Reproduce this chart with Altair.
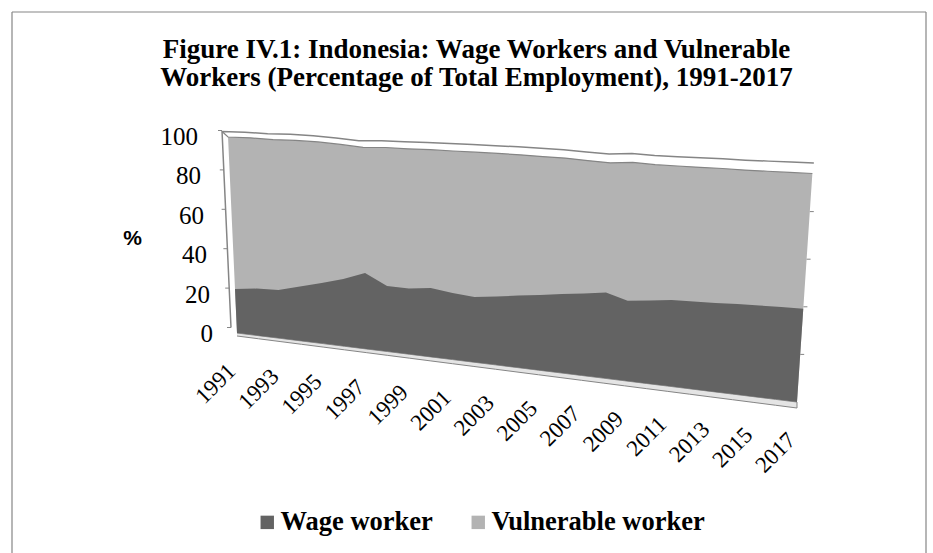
import altair as alt
import pandas as pd

# ---------------- data ----------------
years = list(range(1991, 2018))
wage = [22.3, 23.7, 24.1, 27.0, 29.8, 32.8, 36.8, 31.5, 31.4, 32.6, 31.3, 30.4, 31.6, 33.1,
        34.3, 35.7, 36.9, 38.3, 35.5, 36.5, 37.7, 37.9, 38.1, 38.6, 38.8, 39.1, 39.2]
vulnerable = [77.2, 75.9, 75.2, 72.4, 69.4, 65.7, 60.8, 66.6, 66.6, 65.5, 66.7, 67.6, 66.3, 64.7,
              63.2, 61.6, 59.8, 57.9, 61.4, 59.9, 58.6, 58.3, 58.1, 57.4, 57.2, 56.9, 56.8]
series_names = ["Wage worker", "Vulnerable worker"]
y_ticks = [0, 20, 40, 60, 80, 100]
year_labels = [str(y) for y in years[::2]]
title_lines = ["Figure IV.1: Indonesia: Wage Workers and Vulnerable",
               "Workers (Percentage of Total Employment), 1991-2017"]

# ---------------- styles / 3-D frame geometry ----------------
W, H_PAGE = 933, 553
TOP = 100                      # plot group starts below the title
DARK, LIGHT, EDGE = "#636363", "#b3b3b3", "#858585"
SERIF, SANS = "Liberation Serif", "Liberation Sans"
# perspective frame of the front face (value 0 / value 100 at first / last year)
XB0, XB1, XT0, XT1 = 237, 797, 228, 813
YB0, YB1, YT0, YT1 = 333, 402, 136, 164
# depth offset of the back edge, and floor thickness
DX0, DX1, DY0, DY1 = -6, 1.5, -5.5, -10.5
F0, F1 = 3, 6

n = len(years)
total = [w + u for w, u in zip(wage, vulnerable)]

rows = []
def add(shape, seq, i, v, d=0, off=0, series=None, label=None):
    rows.append(dict(shape=shape, seq=seq, i=i, v=v, d=d, off=off, series=series, label=label))

for k in range(n):
    add("light", k, k, total[k], series=series_names[1])
for k in range(n):
    add("light", n + k, n - 1 - k, 0, series=series_names[1])
for k in range(n):
    add("dark", k, k, wage[k], series=series_names[0])
for k in range(n):
    add("dark", n + k, n - 1 - k, 0, series=series_names[0])
for k in range(n):
    add("floor", k, k, 0)
for k in range(n):
    add("floor", n + k, n - 1 - k, 0, off=1)
add("front_top", 0, 0, total[0], d=1)
for k in range(n):
    add("front_top", k + 1, k, total[k])
add("back_top", 0, 0, 0, d=1)
for k in range(n):
    add("back_top", k + 1, k, total[k], d=1)
for j, v in enumerate(y_ticks):
    add("ylab", j, 0, v, label=str(v))
    add("ltick", j, 0, v, d=1)
for j, v in enumerate(y_ticks[1:-1]):
    add("rtick", j, n - 1, v)
for j, lab in enumerate(year_labels):
    add("xlab", j, years.index(int(lab)), 0, label=lab)

geo = pd.DataFrame(rows)

N = n - 1
base = alt.Chart(geo).transform_calculate(
    t=f"datum.i / {N}"
).transform_calculate(
    bx=f"{XB0} + {XB1 - XB0} * datum.t",
    tx=f"{XT0} + {XT1 - XT0} * datum.t",
    by=f"{YB0} + {YB1 - YB0} * datum.t",
    ty=f"{YT0} + {YT1 - YT0} * datum.t",
).transform_calculate(
    px=f"datum.bx + (datum.tx - datum.bx) * datum.v / 100 + datum.d * ({DX0} + {DX1 - DX0} * datum.t)",
    py=f"datum.by - (datum.by - datum.ty) * datum.v / 100 + datum.d * ({DY0} + {DY1 - DY0} * datum.t)"
       f" + datum.off * ({F0} + {F1 - F0} * datum.t)",
)

x_enc = alt.X("px:Q", scale=alt.Scale(domain=[0, W], nice=False, zero=False), axis=None)
y_enc = alt.Y("py:Q", scale=alt.Scale(domain=[TOP, H_PAGE], reverse=True, nice=False, zero=False),
              axis=alt.Axis(title="%", titleAngle=0, titleX=132, titleY=238 - TOP,
                            titleAlign="center", titleBaseline="middle",
                            labels=False, ticks=False, domain=False, grid=False,
                            titleFont=SANS, titleFontSize=21, titleFontWeight="bold",
                            titleColor="black"))

fill_enc = alt.Fill("series:N",
                    scale=alt.Scale(domain=series_names, range=[DARK, LIGHT]),
                    legend=alt.Legend(orient="none", legendX=254, legendY=509 - TOP,
                                      direction="horizontal", title=None,
                                      symbolType="square", symbolSize=180,
                                      symbolStrokeWidth=0, labelFont=SERIF,
                                      labelFontSize=26.5, labelFontWeight="bold",
                                      labelColor="black", labelOffset=0,
                                      columnPadding=32, padding=0, labelLimit=0))

def shape(name):
    return base.transform_filter(f"datum.shape == '{name}'")

floor = shape("floor").mark_line(fill="#e4e4e4", stroke=EDGE, strokeWidth=1).encode(
    x=x_enc, y=y_enc, order="seq:Q")
light = shape("light").mark_line(strokeWidth=0).encode(
    x=x_enc, y=y_enc, order="seq:Q", fill=fill_enc)
dark = shape("dark").mark_line(strokeWidth=0).encode(
    x=x_enc, y=y_enc, order="seq:Q", fill=fill_enc)
front_top = shape("front_top").mark_line(color=EDGE, strokeWidth=1.2).encode(
    x=x_enc, y=y_enc, order="seq:Q")
back_top = shape("back_top").mark_line(color=EDGE, strokeWidth=1.5).encode(
    x=x_enc, y=y_enc, order="seq:Q")
ltick = shape("ltick").transform_calculate(px2="datum.px - 4").mark_rule(
    color=EDGE, strokeWidth=1).encode(x=x_enc, x2="px2:Q", y=y_enc)
rtick = shape("rtick").transform_calculate(px2="datum.px + 4").mark_rule(
    color=EDGE, strokeWidth=1).encode(x=x_enc, x2="px2:Q", y=y_enc)
# value labels sit along the receding left wall, so they drift left as the value grows
ylab = shape("ylab").transform_calculate(lx="datum.px - 0.06 * datum.v").mark_text(
    font=SERIF, fontSize=25, align="right", baseline="middle", dx=-24, dy=1,
    color="black").encode(
    x=alt.X("lx:Q", scale=alt.Scale(domain=[0, W], nice=False, zero=False), axis=None),
    y=y_enc, text="label:N")
# dx/dy act in the rotated text frame: (-28, 21) there is about (-5, 35) on the page
xlab = shape("xlab").mark_text(font=SERIF, fontSize=23, align="right", baseline="middle",
                               angle=315, dx=-28, dy=21, color="black").encode(
    x=x_enc, y=y_enc, text="label:N")

one = alt.Data(values=[{"a": 1}])
frame_l = alt.Chart(one).mark_rule(color=EDGE, strokeWidth=1.2).encode(
    x=alt.value(12), y=alt.value(12 - TOP), y2=alt.value(H_PAGE - TOP))
frame_t = alt.Chart(one).mark_rule(color=EDGE, strokeWidth=1.2).encode(
    x=alt.value(12), x2=alt.value(926), y=alt.value(12 - TOP))
frame_r = alt.Chart(one).mark_rule(color=EDGE, strokeWidth=1.2).encode(
    x=alt.value(926), y=alt.value(12 - TOP), y2=alt.value(H_PAGE - TOP))

chart = alt.layer(
    floor, light, dark, front_top, back_top, ltick, rtick, ylab, xlab, frame_l, frame_t, frame_r
).properties(
    width=W, height=H_PAGE - TOP,
    title=alt.Title(text=title_lines, font=SERIF, fontSize=27, fontWeight="bold",
                    color="black", anchor="middle", dx=10, offset=-108, lineHeight=28,
                    baseline="bottom"),
    padding={"left": 0, "top": TOP, "right": 0, "bottom": 0},
    autosize=alt.AutoSizeParams(type="none"),
    background="white",
).configure_view(stroke=None)

chart.save("out.html", embed_options={"renderer": "svg", "actions": False})
